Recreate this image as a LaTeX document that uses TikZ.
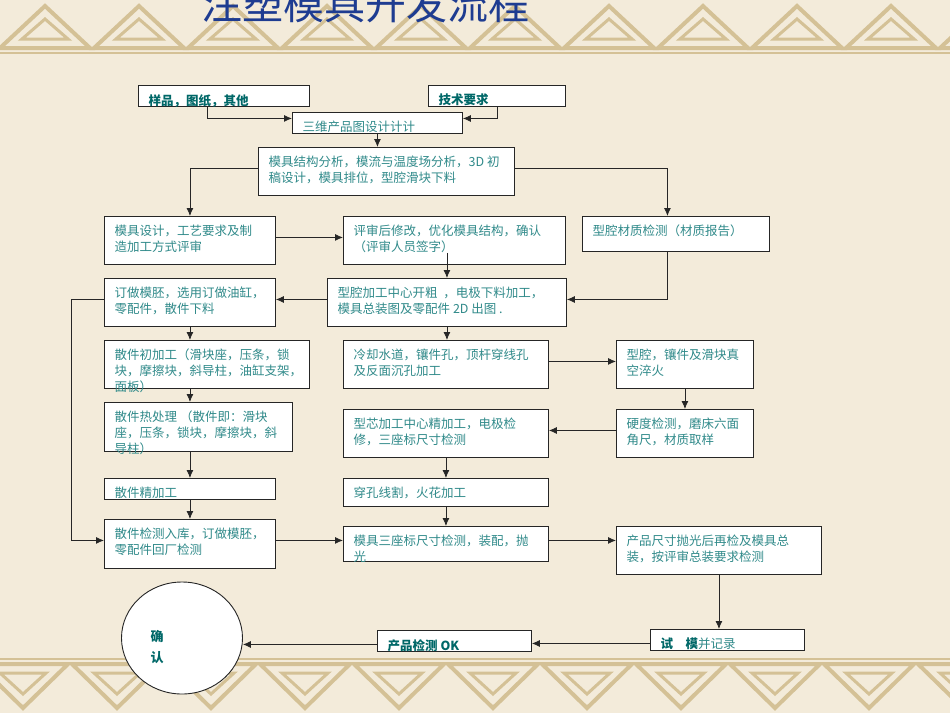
\documentclass[tikz,border=0pt]{standalone}
\usepackage{fontspec}
\setmainfont{Noto Sans CJK SC}
\usetikzlibrary{arrows.meta,shapes.geometric}

\definecolor{paper}{RGB}{243,235,218}
\definecolor{band}{RGB}{212,193,150}
\definecolor{txt}{RGB}{48,138,138}
\definecolor{txtb}{RGB}{0,104,104}
\definecolor{ttl}{RGB}{30,60,145}

\tikzset{
  box/.style={draw=black!85, line width=0.9pt, fill=white, anchor=north west, inner sep=0pt},
  boxtext/.style={anchor=north west, xshift=10.5pt, yshift=-9pt, inner sep=0pt, align=left,
    text=txt, font=\fontsize{12.5}{16}\selectfont},
  boldtext/.style={boxtext, text=txtb, font=\fontsize{12.5}{16}\selectfont\bfseries},
  circtext/.style={anchor=center, xshift=-25pt, yshift=-9pt, inner sep=0pt, align=left,
    text=txtb, font=\fontsize{13}{21}\selectfont\bfseries},
  arr/.style={draw=black!85, line width=0.8pt, -{Latex[length=8pt,width=7pt]}},
  deco/.style={draw=band, line width=4pt, line join=miter}
}

\begin{document}
\begin{tikzpicture}[x=1pt,y=-1pt]
\useasboundingbox (0,0) rectangle (950,713);
\fill[paper] (0,0) rectangle (950,713);

% border bands
\foreach \i in {0,...,10} {
  \draw[deco] ({94*\i},48) -- ({94*\i+45},6) -- ({94*\i+90},48) -- cycle;
  \draw[deco, line width=3pt] ({94*\i+22},39) -- ({94*\i+45},19) -- ({94*\i+68},39) -- cycle;
  \draw[deco] ({94*\i-22},664) -- ({94*\i+68},664) -- ({94*\i+23},708) -- cycle;
  \draw[deco, line width=3pt] ({94*\i},673) -- ({94*\i+46},673) -- ({94*\i+23},694) -- cycle;
}
\draw[band, line width=2pt] (0,53) -- (950,53);
\draw[band, line width=2pt] (0,659) -- (950,659);

\node[anchor=base, text=ttl, font=\fontsize{41}{41}\selectfont] (title) at (365,19) {注塑模具开发流程};

% boxes
\node[box, minimum width=171pt, minimum height=21pt, label={[boldtext]north west:样品，图纸，其他}] (b1) at (138,85) {};
\node[box, minimum width=137pt, minimum height=21pt, label={[boldtext]north west:技术要求}] (b2) at (428,85) {};
\node[box, minimum width=170pt, minimum height=21pt, label={[boxtext]north west:三维产品图设计计计}] (b3) at (292,112) {};
\node[box, minimum width=256pt, minimum height=48pt, label={[boxtext]north west:模具结构分析，模流与温度场分析，3D 初\\稿设计，模具排位，型腔滑块下料}] (b4) at (258,147) {};

\node[box, minimum width=171pt, minimum height=48pt, label={[boxtext]north west:模具设计，工艺要求及制\\造加工方式评审}] (b5) at (104,216) {};
\node[box, minimum width=222pt, minimum height=48pt, label={[boxtext]north west:评审后修改，优化模具结构，确认\\（评审人员签字）}] (b6) at (343,216) {};
\node[box, minimum width=187pt, minimum height=35pt, label={[boxtext]north west:型腔材质检测（材质报告）}] (b7) at (582,216) {};

\node[box, minimum width=171pt, minimum height=48pt, label={[boxtext]north west:订做模胚，选用订做油缸，\\零配件，散件下料}] (b8) at (104,278) {};
\node[box, minimum width=239pt, minimum height=48pt, label={[boxtext]north west:型腔加工中心开粗\ \ ，电极下料加工，\\模具总装图及零配件 2D 出图 .}] (b9) at (327,278) {};

\node[box, minimum width=205pt, minimum height=48pt, label={[boxtext]north west:散件初加工（滑块座，压条，锁\\块，摩擦块，斜导柱，油缸支架，\\面板）}] (b10) at (104,340) {};
\node[box, minimum width=205pt, minimum height=48pt, label={[boxtext]north west:冷却水道，镶件孔，顶杆穿线孔\\及反面沉孔加工}] (b11) at (343,340) {};
\node[box, minimum width=137pt, minimum height=48pt, label={[boxtext]north west:型腔，镶件及滑块真\\空淬火}] (b12) at (616,340) {};

\node[box, minimum width=188pt, minimum height=49pt, label={[boxtext]north west:散件热处理 （散件即：滑块\\座，压条，锁块，摩擦块，斜\\导柱）}] (b13) at (104,402) {};
\node[box, minimum width=205pt, minimum height=48pt, label={[boxtext]north west:型芯加工中心精加工，电极检\\修，三座标尺寸检测}] (b14) at (343,409) {};
\node[box, minimum width=137pt, minimum height=48pt, label={[boxtext]north west:硬度检测，磨床六面\\角尺，材质取样}] (b15) at (616,409) {};

\node[box, minimum width=171pt, minimum height=21pt, label={[boxtext]north west:散件精加工}] (b16) at (104,478) {};
\node[box, minimum width=205pt, minimum height=28pt, label={[boxtext]north west:穿孔线割，火花加工}] (b17) at (343,478) {};

\node[box, minimum width=171pt, minimum height=49pt, label={[boxtext]north west:散件检测入库，订做模胚，\\零配件回厂检测}] (b18) at (104,519) {};
\node[box, minimum width=205pt, minimum height=35pt, label={[boxtext]north west:模具三座标尺寸检测，装配，抛\\光}] (b19) at (343,526) {};
\node[box, minimum width=205pt, minimum height=48pt, label={[boxtext]north west:产品尺寸抛光后再检及模具总\\装，按评审总装要求检测}] (b20) at (616,526) {};

\node[box, minimum width=154pt, minimum height=21pt, label={[boxtext]north west:{\color{txtb}\bfseries 试\quad 模}并记录}] (b21) at (650,629) {};
\node[box, minimum width=154pt, minimum height=21pt, label={[boldtext]north west:产品检测 OK}] (b22) at (377,630) {};
\node[draw=black!85, line width=0.9pt, fill=white, ellipse, minimum width=121pt, minimum height=112pt,
  label={[circtext]center:确\\认}] (ok) at (182,638) {};

% connectors
\draw[arr] ([xshift=-16.5pt]b1.south) |- ([yshift=4.5pt]b3.west);
\draw[arr] (b2.south) |- ([yshift=4.5pt]b3.east);
\draw[arr] (b3.south) -- (b3.south |- b4.north);
\draw[arr] ([yshift=3pt]b4.west) -| (b5.north);
\draw[arr] ([yshift=3pt]b4.east) -| ([xshift=-8.5pt]b7.north);
\draw[arr] ([yshift=3pt]b5.east) -- ([yshift=3pt]b6.west);
\draw[arr] ([yshift=12pt]b9.north |- b6.south) -- (b9.north);
\draw[arr] ([xshift=-8.5pt]b7.south) |- ([yshift=3pt]b9.east);
\draw[arr] ([yshift=3pt]b9.west) -- ([yshift=3pt]b9.west -| b8.east);
\draw[arr] ([yshift=3pt]b8.west) -- ++(-33,0) |- ([yshift=3.5pt]b18.west);
\draw[arr] (b8.south) -- (b8.south |- b10.north);
\draw[arr] (b9.south) -- (b9.south |- b11.north);
\draw[arr] ([yshift=3pt]b11.east) -- ([yshift=3pt]b11.east -| b12.west);
\draw[arr] (b5.north |- b10.south) -- (b5.north |- b13.north);
\draw[arr] (b12.south) -- (b12.south |- b15.north);
\draw[arr] ([yshift=3pt]b15.west) -- ([yshift=3pt]b15.west -| b14.east);
\draw[arr] (b5.north |- b13.south) -- (b5.north |- b16.north);
\draw[arr] (b14.south) -- (b14.south |- b17.north);
\draw[arr] (b5.north |- b16.south) -- (b5.north |- b18.north);
\draw[arr] (b17.south) -- (b17.south |- b19.north);
\draw[arr] ([yshift=3.5pt]b18.east) -- ([yshift=3.5pt]b18.east -| b19.west);
\draw[arr] ([yshift=3.5pt]b19.east) -- ([yshift=3.5pt]b19.east -| b20.west);
\draw[arr] (b20.south) -- (b20.south |- b21.north);
\draw[arr] ([yshift=-3.5pt]b21.west) -- ([yshift=-3.5pt]b21.west -| b22.east);
\draw[arr] ([yshift=-3.5pt]b22.west) -- ([yshift=-3.5pt]b22.west -| ok.east);
\end{tikzpicture}
\end{document}
